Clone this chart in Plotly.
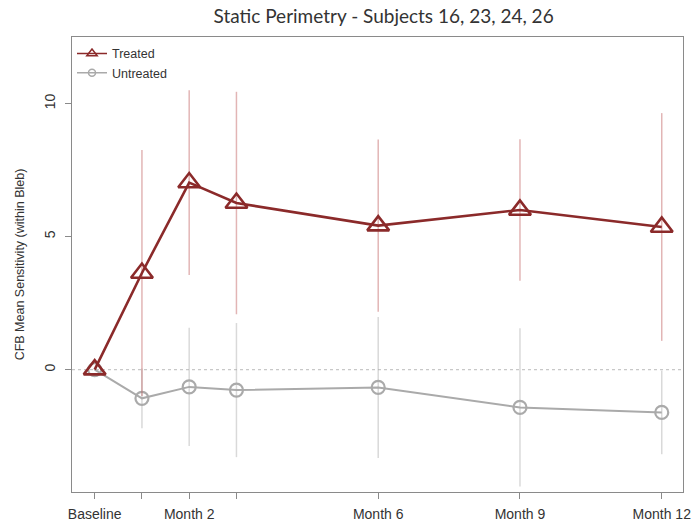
import plotly.graph_objects as go

# Visit schedule (months from baseline) and axis tick labels
months = [0, 1, 2, 3, 6, 9, 12]
tick_labels = ["Baseline", "", "Month 2", "", "Month 6", "Month 9", "Month 12"]

# Change from baseline in mean sensitivity (within bleb), with spread
treated_mean = [0.0, 3.63, 7.03, 6.26, 5.41, 6.00, 5.36]
treated_err = [0.0, 4.62, 3.47, 4.18, 3.24, 2.66, 4.28]
untreated_mean = [0.0, -1.08, -0.65, -0.77, -0.67, -1.42, -1.61]
untreated_err = [0.0, 1.12, 2.22, 2.52, 2.65, 2.97, 1.57]

RED = "#8B2A2A"
RED_BAR = "rgba(190,90,90,0.45)"
GREY = "#AAAAAA"
GREY_BAR = "rgba(170,170,170,0.45)"

fig = go.Figure()

# reference line at zero change
fig.add_shape(type="line", xref="paper", x0=0, x1=1, y0=0, y1=0,
              line=dict(color="#C8C8C8", width=1.2, dash="dot"), layer="below")

fig.add_trace(go.Scatter(
    x=months, y=untreated_mean, mode="lines+markers", showlegend=False,
    line=dict(color=GREY, width=2),
    marker=dict(symbol="circle-open", size=13, color=GREY, line=dict(width=2.2)),
    error_y=dict(type="data", array=untreated_err, symmetric=True,
                 color=GREY_BAR, thickness=1.5, width=0),
))
fig.add_trace(go.Scatter(
    x=months, y=treated_mean, mode="lines+markers", showlegend=False,
    line=dict(color=RED, width=2.6),
    marker=dict(symbol="triangle-up-open", size=19, color=RED, line=dict(width=2.6)),
    error_y=dict(type="data", array=treated_err, symmetric=True,
                 color=RED_BAR, thickness=1.5, width=0),
))

# legend keys with small symbols
fig.add_trace(go.Scatter(
    x=[None], y=[None], mode="lines+markers", name="Treated",
    line=dict(color=RED, width=1.5),
    marker=dict(symbol="triangle-up-open", size=9, color=RED, line=dict(width=1.5)),
))
fig.add_trace(go.Scatter(
    x=[None], y=[None], mode="lines+markers", name="Untreated",
    line=dict(color=GREY, width=1.5),
    marker=dict(symbol="circle-open", size=7, color=GREY, line=dict(width=1.5)),
))

FAM = "Liberation Sans, Arial, sans-serif"
tick_font = dict(family=FAM, size=14, color="#333333")
title_font = dict(family=FAM, size=12.5, color="#333333")

fig.update_layout(
    width=694, height=524,
    margin=dict(l=72, r=11, t=37, b=32),
    paper_bgcolor="white", plot_bgcolor="white",
    title=dict(text="Static Perimetry - Subjects 16, 23, 24, 26",
               x=0.51, xref="paper", y=0.969, yref="container",
               xanchor="center", yanchor="middle",
               font=dict(family="Lato, sans-serif", size=19, color="#333333")),
    showlegend=True,
    legend=dict(x=0.0, y=0.996, xanchor="left", yanchor="top",
                bgcolor="rgba(0,0,0,0)", font=dict(family=FAM, size=12.5, color="#333333"),
                tracegroupgap=0, itemwidth=30),
    font=tick_font,
)

fig.update_xaxes(
    range=[-0.48, 12.45], tickmode="array", tickvals=months, ticktext=tick_labels,
    showgrid=False, zeroline=False, showline=True, mirror=True,
    linecolor="#8A8A8A", linewidth=1.2, automargin=False,
    ticks="outside", ticklen=6, tickcolor="#8A8A8A", tickfont=tick_font,
    ticklabelstandoff=3,
)
fig.update_yaxes(
    range=[-4.6, 12.5], tickmode="array", tickvals=[0, 5, 10],
    showgrid=False, zeroline=False, showline=True, mirror=True,
    linecolor="#8A8A8A", linewidth=1.2, automargin=False,
    ticks="outside", ticklen=6, tickcolor="#8A8A8A", tickangle=-90,
    tickfont=tick_font, ticklabelstandoff=4,
    title=dict(text="CFB Mean Sensitivity (within Bleb)", font=title_font, standoff=14),
)

fig.write_html("out.html")
